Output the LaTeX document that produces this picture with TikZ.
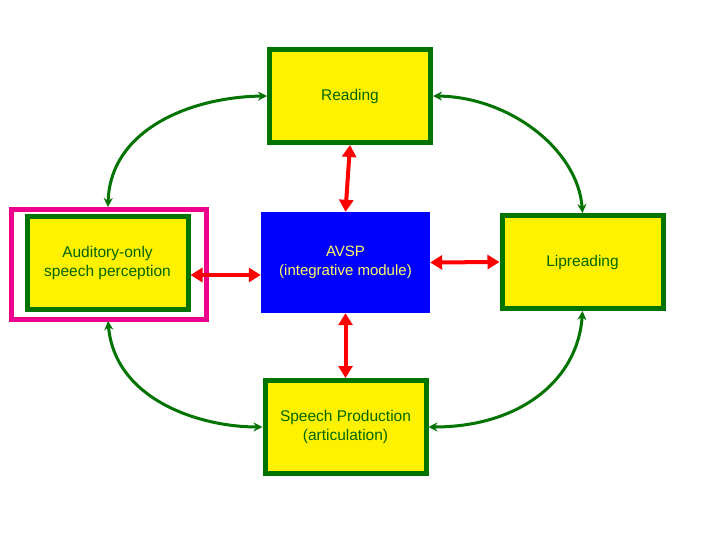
\documentclass[tikz,border=0pt]{standalone}
\usepackage{fontspec}
\setmainfont{Liberation Sans}
\usetikzlibrary{arrows.meta}
\begin{document}
\begin{tikzpicture}[x=1pt,y=-1pt,
  box/.style={draw=green!45!black,line width=5pt,fill=yellow,minimum width=161pt,minimum height=93pt,align=center,text=green!40!black,font=\fontsize{15.5}{19}\selectfont},
  red/.style={draw=red,line width=4pt,{Triangle[width=14pt,length=12pt]}-{Triangle[width=14pt,length=12pt]}},
  grn/.style={draw=green!45!black,line width=3pt,{Stealth[width=9pt,length=9pt]}-{Stealth[width=9pt,length=9pt]}}]
\useasboundingbox (0,0) rectangle (720,540);
\fill[white] (0,0) rectangle (720,540);
\draw[magenta,line width=5pt] (11.5,209.5) rectangle (206.5,319.5);
\node[box] (aud) at (107.5,263) {Auditory-only\\speech perception};
\node[box] (read) at (350,96) {Reading};
\node[box] (lip) at (582.5,262) {Lipreading};
\node[box] (sp) at (345.5,427) {Speech Production\\(articulation)};
\node[fill=blue,minimum width=169pt,minimum height=101pt,align=center,text=yellow!60!white,inner sep=0pt,font=\fontsize{15}{19}\selectfont] (avsp) at (345.5,262.5) {AVSP\\(integrative module)};
\draw[red] (read.south) -- (avsp.north);
\draw[red] (avsp.south) -- (sp.north);
\draw[red] (avsp.east) -- (lip.west);
\draw[red] (aud.east |- 0,275) -- (avsp.west |- 0,275);
\coordinate (a1) at (108,207);
\coordinate (a2) at (108,321);
\draw[grn] (a1) .. controls (110,130) and (190,97) .. (read.west);
\draw[grn] (read.east) .. controls (510,97) and (578,150) .. (lip.north);
\draw[grn] (a2) .. controls (115,400) and (200,427) .. (sp.west);
\draw[grn] (sp.east) .. controls (520,427) and (578,380) .. (lip.south);
\end{tikzpicture}
\end{document}
